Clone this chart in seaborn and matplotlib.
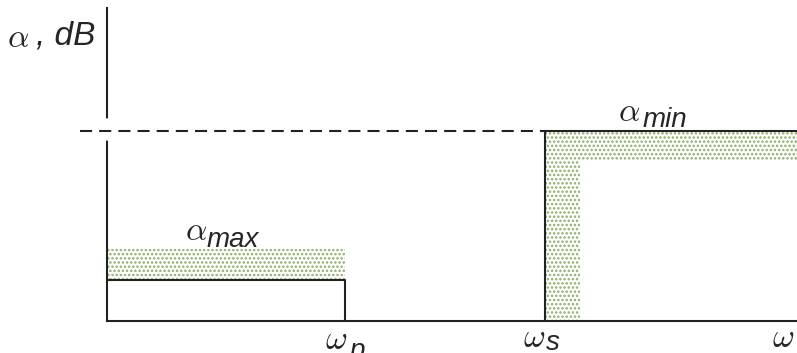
import numpy as np
import seaborn as sns
import matplotlib.pyplot as plt

# filter attenuation spec (x in units of omega_p, y in arbitrary dB units)
w_p = 1.0
w_s = 1.84
w_end = 2.9
a_pass = 1.0
a_max = 1.76
a_min = 4.63
a_top = 7.63
band_w = 0.147   # width of stopband tolerance strip
band_h = 0.71    # height of stopband tolerance strip

pass_x = [0, w_p, w_p]
pass_y = [a_pass, a_pass, 0]
stop_x = [w_s, w_s, w_end]
stop_y = [0, a_min, a_min]

sns.set_style("white")
plt.rcParams['mathtext.fontset'] = 'cm'
plt.rcParams['hatch.linewidth'] = 1.2
sans = dict(family='Liberation Sans', style='italic')
green = '#8cad66'

fig = plt.figure(figsize=(7.97, 3.53), dpi=100)
ax = fig.add_axes([107 / 797, 32 / 353, 690 / 797, 313 / 353])
ax.set_xlim(0, w_end)
ax.set_ylim(0, a_top)

# tolerance bands (dotted)
ax.fill_between([0, w_p], a_pass, a_max, facecolor='none', edgecolor=green,
                hatch='....', linewidth=0)
ax.fill_between([w_s, w_s + band_w], 0, a_min, facecolor='none', edgecolor=green,
                hatch='....', linewidth=0)
ax.fill_between([w_s + band_w, w_end], a_min - band_h, a_min, facecolor='none',
                edgecolor=green, hatch='....', linewidth=0)

# outlines
sns.lineplot(x=pass_x, y=pass_y, sort=False, estimator=None, color='#222222',
             linewidth=1.5, ax=ax)
sns.lineplot(x=stop_x, y=stop_y, sort=False, estimator=None, color='#222222',
             linewidth=1.5, ax=ax)

# dashed level line reaching left past the axis
ax.plot([0, 0], [a_min - 0.17, a_min + 0.25], color='white', linewidth=4,
        clip_on=False, zorder=5)
ax.plot([-0.113, w_s], [a_min, a_min], color='#222222', linewidth=1.5,
        dashes=(5.8, 3.4), clip_on=False, zorder=6)

for s in ['top', 'right']:
    ax.spines[s].set_visible(False)
for s in ['left', 'bottom']:
    ax.spines[s].set_color('#222222')
    ax.spines[s].set_linewidth(1.5)
ax.set_xticks([])
ax.set_yticks([])

# labels
gk = dict(clip_on=False, fontsize=24, ha='left', va='center')
sub = dict(clip_on=False, fontsize=20, ha='left', va='baseline', **sans)
ax.text(-0.42, 6.92, r'$\alpha$', **gk)
ax.text(-0.30, 6.73, ', dB', clip_on=False, fontsize=24, ha='left',
        va='baseline', **sans)

ax.text(0.328, 2.2, r'$\alpha$', **gk)
ax.text(0.42, 1.8, 'max', **sub)
ax.text(2.147, 5.1, r'$\alpha$', **gk)
ax.text(2.252, 4.73, 'min', **sub)

ax.text(0.916, -0.44, r'$\omega$', **gk)
ax.text(1.02, -0.9, 'p', **sub)
ax.text(1.748, -0.41, r'$\omega$', **gk)
ax.text(1.845, -0.7, 's', **sub)
ax.text(2.794, -0.41, r'$\omega$', **gk)

fig.savefig('out.png', dpi=100)
